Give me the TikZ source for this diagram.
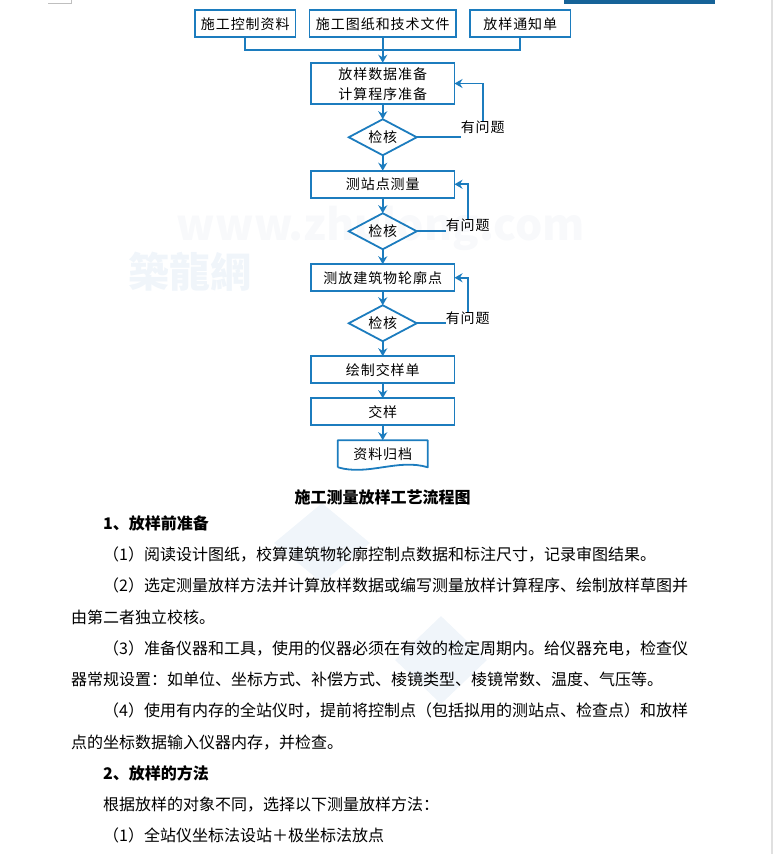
\documentclass[tikz,border=0pt]{standalone}
\usepackage{fontspec}
\setmainfont{Noto Sans CJK SC}
\newfontfamily\boxfont[LetterSpace=7]{Noto Sans CJK SC}
\usetikzlibrary{arrows.meta,positioning,shapes.geometric}
\definecolor{flowblue}{HTML}{1C7CBE}
\definecolor{markpale}{HTML}{F0F5FA}
\definecolor{markwhite}{HTML}{F8F9FB}
\tikzset{
  flowbox/.style={draw=flowblue, line width=1.8pt, inner sep=0pt, outer sep=0pt, minimum width=143.5pt, font=\boxfont\fontsize{14}{18}\selectfont, align=center},
  topbox/.style={flowbox, minimum height=27pt},
  checkbox/.style={draw=flowblue, line width=1.8pt, diamond, shape aspect=1.89, inner sep=0pt, outer sep=0pt, minimum width=68pt, minimum height=36pt, font=\boxfont\fontsize{14}{18}\selectfont},
  issuelabel/.style={inner sep=0pt, outer sep=0pt, font=\boxfont\fontsize{14}{18}\selectfont},
  flowline/.style={draw=flowblue, line width=1.8pt},
  flowarrow/.style={flowline, -{Stealth[length=8pt,width=9pt]}},
  bodyline/.style={anchor=base west, inner sep=0pt, font=\fontsize{16}{20}\selectfont},
  headline/.style={bodyline, font=\fontsize{16}{20}\selectfont\bfseries}
}
\begin{document}
\begin{tikzpicture}[x=1pt,y=1pt]
  \useasboundingbox (0,0) rectangle (773,-854);

  % faint marks behind the page
  \node[markwhite, font=\fontsize{43}{46}\selectfont\bfseries, inner sep=0pt] (MarkWeb) at (381,-228) {www.zhulong.com};
  \node[markpale, font=\fontsize{41}{44}\selectfont\bfseries, inner sep=0pt] (MarkName) at (190,-272) {築龍網};
  \node[diamond, fill=markpale, minimum width=96pt, minimum height=80pt, inner sep=0pt] (MarkA) at (322,-543) {};
  \node[diamond, fill=markpale, minimum width=92pt, minimum height=88pt, inner sep=0pt] (MarkB) at (441,-660) {};

  % page edges
  \fill[black!25] (48,-2.5) rectangle (72,-3.5);
  \fill[black!25] (71,0) rectangle (72,-3.5);
  \fill[flowblue!80!black] (564,0) rectangle (715,-3.5);
  \fill[black!12] (771,0) rectangle (773,-854);

  % inputs
  \node[topbox, minimum width=146.5pt] (Plan) at (382.75,-23.75) {施工图纸和技术文件};
  \node[topbox, minimum width=100.5pt, left=14pt of Plan] (Ctrl) {施工控制资料};
  \node[topbox, minimum width=100.5pt, right=14pt of Plan] (Notice) {放样通知单};
  \coordinate[below=13pt of Plan.south] (Join);

  % main column
  \node[flowbox, minimum height=41.5pt, below=25.5pt of Plan, text depth=0pt] (Data) {放样数据准备\\[2pt]计算程序准备};
  \node[checkbox, below=15pt of Data] (ChkA) {检核};
  \node[topbox, below=15.5pt of ChkA] (Station) {测站点测量};
  \node[checkbox, below=15.5pt of Station] (ChkB) {检核};
  \node[topbox, below=15pt of ChkB] (Outline) {测放建筑物轮廓点};
  \node[checkbox, below=14pt of Outline] (ChkC) {检核};
  \node[topbox, below=15pt of ChkC] (Sheet) {绘制交样单};
  \node[topbox, below=15pt of Sheet] (Hand) {交样};
  \node[minimum width=90pt, minimum height=27pt, inner sep=0pt, outer sep=0pt, below=15pt of Hand, font=\boxfont\fontsize{14}{18}\selectfont] (Archive) {资料归档};
  \draw[flowline, line join=round] (Archive.south west) -- (Archive.north west) -- (Archive.north east) -- (Archive.south east)
    .. controls +(-30,9) and +(30,-9) .. (Archive.south west);

  % feedback labels
  \node[issuelabel, right=44pt of ChkA.east, yshift=10pt] (IssueA) {有问题};
  \node[issuelabel, right=29pt of ChkB.east, yshift=6pt] (IssueB) {有问题};
  \node[issuelabel, right=29pt of ChkC.east, yshift=5pt] (IssueC) {有问题};

  \draw[flowline] (Ctrl.south) |- (Join);
  \draw[flowline] (Notice.south) |- (Join);
  \draw[flowarrow] (Plan) -- (Data);
  \draw[flowarrow] (Data) -- (ChkA);
  \draw[flowarrow] (ChkA) -- (Station);
  \draw[flowarrow] (Station) -- (ChkB);
  \draw[flowarrow] (ChkB) -- (Outline);
  \draw[flowarrow] (Outline) -- (ChkC);
  \draw[flowarrow] (ChkC) -- (Sheet);
  \draw[flowarrow] (Sheet) -- (Hand);
  \draw[flowarrow] (Hand) -- (Archive);

  \draw[flowline] (ChkA.east) -- (ChkA.east -| IssueA.west);
  \draw[flowline] (ChkB.east) -- (ChkB.east -| IssueB.west);
  \draw[flowline] (ChkC.east) -- (ChkC.east -| IssueC.west);
  \draw[flowarrow] (IssueA.north) |- (Data.east);
  \draw[flowarrow] (IssueB.north) |- (Station.east);
  \draw[flowarrow] (IssueC.north) |- (Outline.east);

  % text below the chart
  \node[font=\fontsize{16}{20}\selectfont\bfseries, inner sep=0pt] (Title) at (382.5,-497) {施工测量放样工艺流程图};
  \node[headline] (HeadA) at (103,-529) {1、放样前准备};
  \node[bodyline] (LineA) at (103,-560) {（1）阅读设计图纸，校算建筑物轮廓控制点数据和标注尺寸，记录审图结果。};
  \node[bodyline] (LineB) at (103,-591) {（2）选定测量放样方法并计算放样数据或编写测量放样计算程序、绘制放样草图并};
  \node[bodyline] (LineC) at (71,-623) {由第二者独立校核。};
  \node[bodyline] (LineD) at (103,-654) {（3）准备仪器和工具，使用的仪器必须在有效的检定周期内。给仪器充电，检查仪};
  \node[bodyline] (LineE) at (71,-685) {器常规设置：如单位、坐标方式、补偿方式、棱镜类型、棱镜常数、温度、气压等。};
  \node[bodyline] (LineF) at (103,-716) {（4）使用有内存的全站仪时，提前将控制点（包括拟用的测站点、检查点）和放样};
  \node[bodyline] (LineG) at (71,-748) {点的坐标数据输入仪器内存，并检查。};
  \node[headline] (HeadB) at (103,-779) {2、放样的方法};
  \node[bodyline] (LineH) at (103,-810) {根据放样的对象不同，选择以下测量放样方法：};
  \node[bodyline] (LineI) at (103,-841) {（1）全站仪坐标法设站＋极坐标法放点};
\end{tikzpicture}
\end{document}
